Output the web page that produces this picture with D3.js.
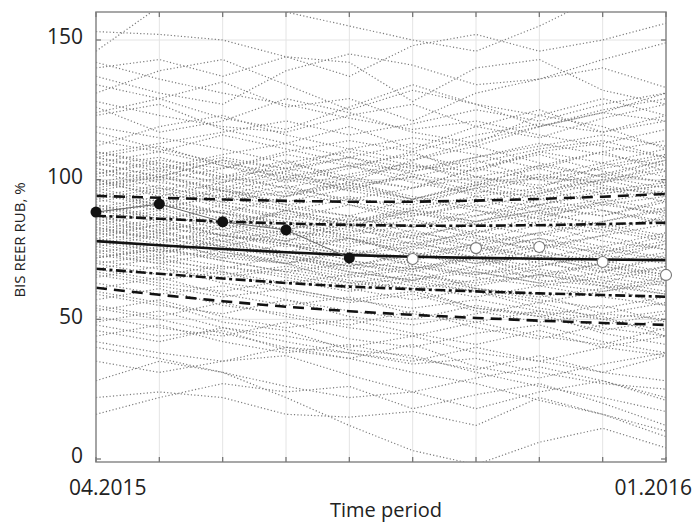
<!DOCTYPE html>
<html><head><meta charset="utf-8">
<script src="https://cdn.jsdelivr.net/npm/d3@7"></script>
<style>body{margin:0;background:#fff}svg{display:block}</style>
</head><body>
<script>
// ---- data ----
const periods = ["04.2015","05.2015","06.2015","07.2015","08.2015","09.2015","10.2015","11.2015","12.2015","01.2016"];
const yTicks = [0, 50, 100, 150];
const actual = [88.4, 91.3, 84.9, 82.0, 72.0];             // black dots (04-08.2015)
const outOfSample = [null,null,null,null,null, 71.6, 75.5, 75.9, 70.5, 65.9]; // white dots
const meanPath = [78, 76.5, 75.2, 74, 73, 72.4, 72, 71.7, 71.4, 71.2];
const upper90 = [94.2, 93.5, 92.9, 92.4, 92.1, 92.1, 92.5, 93.1, 93.9, 94.9];
const upper70 = [87.1, 86, 85, 84.3, 83.8, 83.5, 83.5, 83.7, 84.1, 84.6];
const lower70 = [68.1, 66.3, 64.6, 63, 61.7, 60.8, 60, 59.3, 58.7, 58.1];
const lower90 = [61.3, 58.8, 56.5, 54.5, 52.9, 51.6, 50.5, 49.5, 48.7, 48];
const simPaths = [
 [153,152,150,144,137,148,152,146,150,156],
 [146,162,168,160,155,150,146,155,166,170],
 [140,143,137,144,142,128,140,143,132,127],
 [137,131,127,139,145,141,134,136,143,149],
 [134,129,135,126,129,121,131,136,140,133],
 [131,139,143,134,125,132,127,119,124,131],
 [128,123,119,117,123,127,119,115,122,127],
 [126,117,121,129,124,117,113,123,129,123],
 [123,127,118,113,119,111,119,125,117,121],
 [110,105,101,107,99,107,112,106,101,107],
 [108,112,105,99,104,110,101,97,105,109],
 [106,101,97,103,108,102,98,105,110,103],
 [124,129,122,118,126,134,127,123,119,111],
 [112,119,123,116,111,107,114,119,125,129],
 [114,110,116,111,106,103,108,113,109,105],
 [119,115,111,106,110,105,101,98,102,99],
 [109,113,117,121,116,120,125,121,127,131],
 [104,100,104,110,114,110,116,120,117,123],
 [117,111,106,102,98,101,96,94,99,103],
 [142,136,131,127,122,118,121,116,112,108],
 [102,107,104,109,105,101,106,111,114,108],
 [99,103,108,104,108,113,109,104,110,114],
 [110,106,101,104,100,97,104,110,106,101],
 [108,103,99,106,101,97,104,109,103,99],
 [106,101,107,100,96,103,107,100,95,98],
 [105,108,102,97,102,106,99,95,102,107],
 [103,97,94,100,105,99,95,101,106,111],
 [101,104,98,94,99,93,99,104,98,94],
 [100,94,99,103,96,92,97,91,96,99],
 [98,102,96,92,97,101,94,90,87,93],
 [97,92,97,91,87,93,98,93,89,85],
 [96,100,93,98,92,88,85,91,95,98],
 [95,91,88,94,98,93,89,86,92,87],
 [94,98,92,89,85,90,94,97,91,88],
 [93,89,95,90,87,83,89,84,81,87],
 [92,96,90,86,91,85,81,87,91,94],
 [91,87,84,89,83,89,93,88,84,80],
 [90,94,88,85,81,86,80,77,83,86],
 [89,85,91,86,82,79,85,89,83,79],
 [88,92,86,82,87,81,78,84,78,75],
 [87,83,80,85,79,76,82,77,74,80],
 [86,90,84,81,77,82,76,81,85,89],
 [85,81,87,82,78,75,80,74,71,77],
 [84,88,82,78,83,77,74,79,73,70],
 [83,79,76,81,75,72,77,81,76,72],
 [82,86,80,77,73,78,72,69,74,78],
 [81,77,83,78,74,71,76,70,67,73],
 [80,84,78,74,79,73,70,75,69,66],
 [79,75,72,77,71,68,73,77,71,67],
 [78,82,76,73,69,74,68,65,70,74],
 [77,73,79,74,70,67,72,66,63,69],
 [76,80,74,70,75,69,66,71,65,62],
 [75,71,68,73,67,64,69,73,67,63],
 [74,77,73,70,66,69,65,62,65,69],
 [73,70,74,71,67,64,67,63,60,64],
 [72,75,71,67,70,66,63,66,62,59],
 [71,68,65,68,64,61,64,68,64,60],
 [70,73,69,66,62,65,61,58,61,65],
 [104,99,96,101,97,93,98,102,97,92],
 [102,106,100,95,99,94,90,95,100,104],
 [99,95,92,96,91,87,92,96,100,95],
 [97,101,96,91,94,89,85,89,93,89],
 [95,90,94,89,85,88,84,80,85,90],
 [93,97,91,87,84,87,91,86,82,78],
 [91,86,89,84,80,84,79,75,80,84],
 [89,93,88,84,80,77,81,85,89,84],
 [87,82,85,80,84,79,75,79,75,71],
 [85,89,84,79,76,80,76,72,76,81],
 [83,78,81,77,73,76,72,76,80,75],
 [81,85,80,76,79,74,70,73,69,65],
 [79,74,77,73,69,73,77,72,68,64],
 [77,81,76,72,68,71,67,63,67,72],
 [76,72,75,70,74,70,66,69,73,77],
 [74,70,66,69,65,68,72,67,63,59],
 [72,76,71,67,63,66,62,66,70,66],
 [70,66,69,65,61,57,61,57,54,58],
 [68,72,67,63,66,62,58,62,58,55],
 [67,63,60,64,60,64,60,56,60,63],
 [100,96,101,97,93,97,101,105,101,97],
 [106,110,105,101,105,109,104,100,104,108],
 [108,104,109,113,108,104,108,112,116,112],
 [84,80,84,88,84,80,84,88,92,96],
 [78,74,78,82,86,83,87,91,87,92],
 [66,62,58,61,57,54,57,53,50,53],
 [96,91,88,82,79,73,71,64,62,55],
 [90,86,80,77,71,68,61,59,52,50],
 [86,81,78,72,69,63,60,54,51,44],
 [82,79,72,70,63,61,54,52,45,41],
 [98,101,107,104,111,115,112,119,124,121],
 [88,91,96,94,101,105,103,110,113,118],
 [79,84,82,89,93,91,97,101,99,106],
 [72,75,80,78,85,89,87,93,97,95],
 [68,64,67,61,57,60,54,51,55,49],
 [65,69,63,60,56,59,53,49,52,56],
 [63,59,62,57,53,50,55,51,46,50],
 [61,65,59,55,58,52,49,53,47,44],
 [59,55,52,57,51,48,52,56,50,46],
 [57,61,55,52,48,53,47,43,48,52],
 [55,51,56,51,47,44,49,44,41,47],
 [53,57,51,47,50,45,41,46,40,37],
 [51,47,44,49,43,40,45,48,42,38],
 [49,53,47,44,40,44,38,35,40,44],
 [46,42,47,42,38,35,40,35,31,37],
 [44,48,42,38,41,36,32,37,31,28],
 [40,36,31,26,22,24,18,24,28,22],
 [35,31,35,37,30,24,29,33,28,21],
 [28,35,31,22,12,3,-2,6,11,4],
 [16,22,27,24,26,18,23,27,20,12],
 [22,24,22,16,15,17,12,22,16,8],
 [54,50,45,40,36,31,27,21,16,10],
 [60,56,49,46,39,37,31,26,22,17],
 [48,44,46,39,36,41,33,29,34,38],
 [42,38,35,40,38,34,36,31,27,25]
];

// ---- layout ----
const W = 693, H = 522;
const L = 96, R = 666, T = 12, B = 462;
const FONT = "'Open Sans', 'DejaVu Sans', sans-serif";

const svg = d3.select("body").append("svg").attr("width", W).attr("height", H);
const x = d3.scaleLinear().domain([0, periods.length - 1]).range([L, R]);
const y = d3.scaleLinear().domain([0, 150]).range([459, 40]);

svg.append("clipPath").attr("id","clip").append("rect")
  .attr("x", L).attr("y", T).attr("width", R - L).attr("height", B - T);

// grid
const grid = svg.append("g").attr("stroke", "#e4e4e4").attr("stroke-width", 1);
periods.forEach((p, i) => grid.append("line").attr("x1", x(i)).attr("x2", x(i)).attr("y1", T).attr("y2", B));
yTicks.filter(v => v > 0).forEach(v => grid.append("line").attr("x1", L).attr("x2", R).attr("y1", y(v)).attr("y2", y(v)));

const plot = svg.append("g").attr("clip-path", "url(#clip)");
const line = d3.line().x((d, i) => x(i)).y(d => y(d));

// simulated paths
plot.append("g").selectAll("path").data(simPaths).join("path")
  .attr("d", line).attr("fill", "none")
  .attr("stroke", "#7c7c7c").attr("stroke-width", 1.2)
  .attr("stroke-dasharray", "1.2 2.2");

// bands
const bands = [
  {d: upper90, dash: "11 7"},
  {d: upper70, dash: "10 3.5 3 3.5"},
  {d: meanPath, dash: null},
  {d: lower70, dash: "10 3.5 3 3.5"},
  {d: lower90, dash: "11 7"}
];
plot.append("g").selectAll("path").data(bands).join("path")
  .attr("d", b => line(b.d)).attr("fill", "none")
  .attr("stroke", "#111").attr("stroke-width", 2.6)
  .attr("stroke-dasharray", b => b.dash);

// actual path
plot.append("path").attr("d", line(actual)).attr("fill", "none")
  .attr("stroke", "#666").attr("stroke-width", 1);

// frame
svg.append("rect").attr("x", L).attr("y", T).attr("width", R - L).attr("height", B - T)
  .attr("fill", "none").attr("stroke", "#8a8a8a").attr("stroke-width", 1.5);

// ticks
const tk = svg.append("g").attr("stroke", "#777").attr("stroke-width", 1.3);
periods.forEach((p, i) => {
  tk.append("line").attr("x1", x(i)).attr("x2", x(i)).attr("y1", B).attr("y2", B - 5);
  tk.append("line").attr("x1", x(i)).attr("x2", x(i)).attr("y1", T).attr("y2", T + 5);
});
yTicks.forEach(v => {
  tk.append("line").attr("x1", L).attr("x2", L + 5).attr("y1", y(v)).attr("y2", y(v));
  tk.append("line").attr("x1", R).attr("x2", R - 5).attr("y1", y(v)).attr("y2", y(v));
});

// markers (drawn unclipped so edge dots show fully)
svg.append("g").selectAll("circle").data(actual).join("circle")
  .attr("cx", (d, i) => x(i)).attr("cy", d => y(d)).attr("r", 5.5).attr("fill", "#111");
svg.append("g").selectAll("circle").data(outOfSample.map((v, i) => ({v, i})).filter(o => o.v !== null)).join("circle")
  .attr("cx", o => x(o.i)).attr("cy", o => y(o.v)).attr("r", 5.5)
  .attr("fill", "#fff").attr("stroke", "#777").attr("stroke-width", 1.1);

// y tick labels
svg.append("g").selectAll("text").data(yTicks).join("text")
  .attr("x", 83).attr("y", v => y(v) - 3).attr("dy", "0.35em")
  .attr("text-anchor", "end").attr("font-family", FONT).attr("font-size", 21).attr("fill", "#222")
  .text(v => v);

// x labels (first and last only)
svg.append("text").attr("x", x(0) - 27).attr("y", 495).attr("text-anchor", "start")
  .attr("font-family", FONT).attr("font-size", 21).attr("fill", "#222").text(periods[0]);
svg.append("text").attr("x", x(periods.length - 1) + 26).attr("y", 495).attr("text-anchor", "end")
  .attr("font-family", FONT).attr("font-size", 21).attr("fill", "#222").text(periods[periods.length - 1]);

// axis titles
svg.append("text").attr("x", 386).attr("y", 517).attr("text-anchor", "middle")
  .attr("font-family", FONT).attr("font-size", 20).attr("fill", "#222").text("Time period");
svg.append("text").attr("transform", "translate(25,240) rotate(-90)").attr("text-anchor", "middle")
  .attr("font-family", FONT).attr("font-size", 15).attr("fill", "#222").text("BIS REER RUB, %");
</script>
</body></html>
